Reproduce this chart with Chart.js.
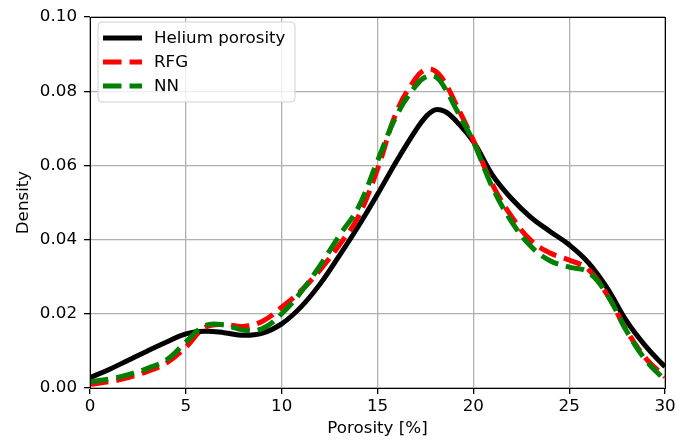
<!DOCTYPE html>
<html>
<head>
<meta charset="utf-8">
<script src="https://cdn.jsdelivr.net/npm/chart.js@4.4.0/dist/chart.umd.min.js"></script>
<style>
  html, body { margin: 0; padding: 0; background: #fff; }
  #wrap { width: 688px; height: 440px; }
</style>
</head>
<body>
<div id="wrap"><canvas id="kde_chart" width="688" height="440"></canvas></div>
<script>
// porosity grid (x) and the three density curves
var porosity = [0, 1, 2, 3, 4, 5, 6, 7, 8, 9, 10, 11, 12, 13, 14, 15, 16, 17, 17.5, 18, 18.5, 19, 20, 21, 22, 23, 24, 25, 26, 27, 28, 29, 30]

var helium = [0.0028, 0.0050, 0.0075, 0.0100, 0.0124, 0.0146, 0.0153, 0.0149, 0.0142, 0.0148,
    0.0173, 0.0218, 0.0280, 0.0356, 0.0436, 0.0522, 0.0612, 0.0695, 0.0730, 0.0750, 0.0746,
    0.0725, 0.0664, 0.0574, 0.0510, 0.0460, 0.0422, 0.0386, 0.0338, 0.0268, 0.0180, 0.0112, 0.0057]

var rfg = [0.0010, 0.0017, 0.0028, 0.0045, 0.0068, 0.0110, 0.0163, 0.0171, 0.0166, 0.0180,
    0.0218, 0.0262, 0.0318, 0.0385, 0.0462, 0.0590, 0.0745, 0.0835, 0.0858, 0.0855, 0.0825,
    0.0775, 0.0668, 0.0548, 0.0462, 0.0398, 0.0364, 0.0345, 0.0320, 0.0250, 0.0155, 0.0080, 0.0030]

var nn = [0.0017, 0.0024, 0.0036, 0.0053, 0.0076, 0.0124, 0.0168, 0.0170, 0.0156, 0.0160,
    0.0200, 0.0258, 0.0330, 0.0410, 0.0487, 0.0612, 0.0735, 0.0815, 0.0838, 0.0840, 0.0810,
    0.0762, 0.0664, 0.0540, 0.0448, 0.0382, 0.0343, 0.0326, 0.0312, 0.0250, 0.0153, 0.0075, 0.0021]

var seriesNames = ['Helium porosity', 'RFG', 'NN']
var seriesColors = ['#000000', '#ff0000', '#008000']
var seriesDash = [[], [18.5, 8], [18.5, 8]]

var FONT = 'DejaVu Sans'
var FSIZE = 16.7

function toPoints(vals){
    var pts = []
    for (var i = 0; i < porosity.length; i++) {
        pts.push({x: porosity[i], y: vals[i]})
    }
    return pts
}

// frame round the plot + legend box inside the axes (matplotlib style)
var framePlugin = {
    id: 'frame',
    afterDraw: function(chart){
        var ctx = chart.ctx
        var a = chart.chartArea
        ctx.save()
        ctx.strokeStyle = '#000'
        ctx.lineWidth = 1
        ctx.setLineDash([])
        ctx.strokeRect(Math.round(a.left) + 0.5, Math.round(a.top) + 0.5,
            Math.round(a.right - a.left), Math.round(a.bottom - a.top))

        // legend
        var bx = 98, by = 22, bw = 197, bh = 80, r = 4
        ctx.beginPath()
        ctx.moveTo(bx + r, by)
        ctx.arcTo(bx + bw, by, bx + bw, by + bh, r)
        ctx.arcTo(bx + bw, by + bh, bx, by + bh, r)
        ctx.arcTo(bx, by + bh, bx, by, r)
        ctx.arcTo(bx, by, bx + bw, by, r)
        ctx.closePath()
        ctx.fillStyle = 'rgba(255,255,255,0.8)'
        ctx.fill()
        ctx.strokeStyle = '#d0d0d0'
        ctx.stroke()

        var rows = [38, 62, 86]
        chart.data.datasets.forEach(function(ds, i){
            ctx.beginPath()
            ctx.strokeStyle = ds.borderColor
            ctx.lineWidth = ds.borderWidth
            ctx.setLineDash(ds.borderDash)
            ctx.moveTo(103, rows[i])
            ctx.lineTo(142, rows[i])
            ctx.stroke()
            ctx.setLineDash([])
            ctx.fillStyle = '#000'
            ctx.font = FSIZE + 'px "' + FONT + '"'
            ctx.textBaseline = 'middle'
            ctx.fillText(ds.label, 154, rows[i] + 1)
        })
        ctx.restore()
    }
}

var datasets = []
var vals = [helium, rfg, nn]
for (var k = 0; k < vals.length; k++) {
    datasets.push({
        label: seriesNames[k],
        data: toPoints(vals[k]),
        borderColor: seriesColors[k],
        backgroundColor: seriesColors[k],
        borderWidth: 5,
        borderDash: seriesDash[k],
        pointRadius: 0,
        fill: false,
        tension: 0.4,
        order: 3 - k
    })
}

var ctx = document.getElementById('kde_chart').getContext('2d')
var kdeChart = new Chart(ctx, {
    type: 'line',
    data: { datasets: datasets },
    plugins: [framePlugin],
    options: {
        responsive: false,
        animation: false,
        layout: { padding: { top: 14, right: 23, left: 0, bottom: 0 } },
        plugins: {
            legend: { display: false },
            tooltip: { enabled: false }
        },
        scales: {
            x: {
                type: 'linear',
                min: 0,
                max: 30,
                afterFit: function(scale){ scale.height = 52 },
                ticks: {
                    stepSize: 5,
                    color: '#000',
                    padding: 3,
                    maxRotation: 0,
                    font: { family: FONT, size: FSIZE }
                },
                grid: { color: '#b0b0b0', lineWidth: 1.3, tickLength: 6, tickColor: '#000' },
                border: { color: '#000', width: 1 },
                title: {
                    display: true,
                    text: 'Porosity [%]',
                    color: '#000',
                    font: { family: FONT, size: FSIZE },
                    padding: { top: 0, bottom: 1 }
                }
            },
            y: {
                min: 0,
                max: 0.1,
                afterFit: function(scale){ scale.width = 90 },
                ticks: {
                    stepSize: 0.02,
                    color: '#000',
                    padding: 7,
                    font: { family: FONT, size: FSIZE },
                    callback: function(v){ return v.toFixed(2) }
                },
                grid: { color: '#b0b0b0', lineWidth: 1.3, tickLength: 6, tickColor: '#000' },
                border: { color: '#000', width: 1 },
                title: {
                    display: true,
                    text: 'Density',
                    color: '#000',
                    font: { family: FONT, size: FSIZE },
                    padding: { top: 14, bottom: 0 }
                }
            }
        }
    }
})
</script>
</body>
</html>
